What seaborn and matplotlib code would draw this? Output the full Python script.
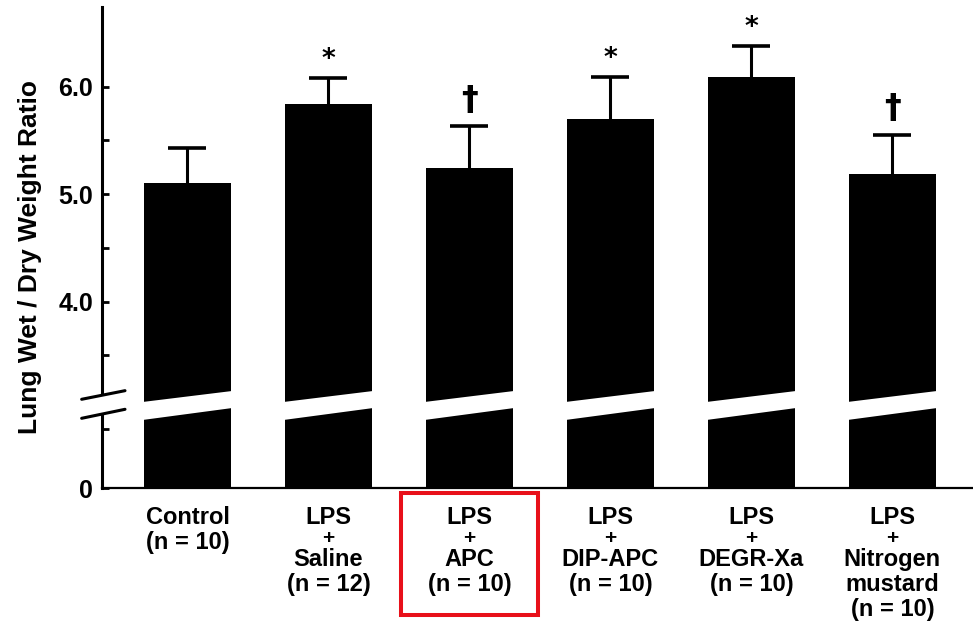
import numpy as np
import pandas as pd
import matplotlib
matplotlib.use("Agg")
import matplotlib.pyplot as plt
import matplotlib.transforms as mtransforms
from matplotlib.patches import Polygon, Rectangle
from matplotlib.lines import Line2D
from matplotlib.ticker import FixedLocator
import seaborn as sns

# ---- data -------------------------------------------------------------
groups = ["Control", "LPS + Saline", "LPS + APC", "LPS + DIP-APC",
          "LPS + DEGR-Xa", "LPS + Nitrogen mustard"]
group_labels = [
    "Control\n(n = 10)",
    "LPS\n+\nSaline\n(n = 12)",
    "LPS\n+\nAPC\n(n = 10)",
    "LPS\n+\nDIP-APC\n(n = 10)",
    "LPS\n+\nDEGR-Xa\n(n = 10)",
    "LPS\n+\nNitrogen\nmustard\n(n = 10)",
]
ratio_mean = [5.10, 5.84, 5.24, 5.70, 6.09, 5.19]
ratio_sem = [0.33, 0.24, 0.39, 0.39, 0.29, 0.36]
significance = ["", "*", "\u2020", "*", "*", "\u2020"]

major_ticks = [0, 4.0, 5.0, 6.0]
major_labels = ["0", "4.0", "5.0", "6.0"]
minor_ticks = [2.25, 3.5, 4.5, 5.5]

# ---- broken y scale: 0..3 squeezed into a short stub under the break ---
BREAK = 3.0
ZERO_POS = 2.264


def squeeze(v):
    v = np.asarray(v, dtype=float)
    return np.where(v >= BREAK, v, ZERO_POS + v * (BREAK - ZERO_POS) / BREAK)


def unsqueeze(s):
    s = np.asarray(s, dtype=float)
    return np.where(s >= BREAK, s, (s - ZERO_POS) * BREAK / (BREAK - ZERO_POS))


sns.set_style("white")
plt.rcParams["font.family"] = ["Liberation Sans", "DejaVu Sans"]
plt.rcParams["font.weight"] = "bold"
for key in ["text.color", "axes.labelcolor", "xtick.color", "ytick.color",
            "axes.edgecolor"]:
    plt.rcParams[key] = "black"

df = pd.DataFrame({"group": groups, "ratio": ratio_mean})

fig = plt.figure(figsize=(9.73, 6.24), dpi=100)
ax = fig.add_axes([0.1045, 0.2175, 0.8945, 0.7713])

sns.barplot(data=df, x="group", y="ratio", order=groups, color="black",
            saturation=1, width=0.617, errorbar=None, linewidth=0, ax=ax)

ax.set_yscale("function", functions=(squeeze, unsqueeze))
ax.set_ylim(0, 6.741)
ax.set_xlim(-0.6087, 5.5654)

# upward-only error bars (SEM); the lower cap sits inside the bar and is hidden
xpos = np.arange(len(groups))
_, caps, _ = ax.errorbar(xpos, ratio_mean,
                         yerr=[np.zeros(len(groups)), ratio_sem],
                         fmt="none", ecolor="black", elinewidth=2.2,
                         capsize=13.5, capthick=2.6, zorder=4)
caps[0].set_visible(False)

# significance marks above the error bars
for x, m, s, mark in zip(xpos, ratio_mean, ratio_sem, significance):
    if not mark:
        continue
    if mark == "*":
        ax.annotate(mark, xy=(x, m + s), xytext=(0, 8), textcoords="offset points",
                    ha="center", va="baseline", fontsize=19, fontweight="bold",
                    family=["DejaVu Sans"])
    else:
        ax.annotate(mark, xy=(x, m + s), xytext=(0, 12), textcoords="offset points",
                    ha="center", va="baseline", fontsize=24, fontweight="bold",
                    family=["DejaVu Sans"])

# slanted white gap across every bar
blend = mtransforms.blended_transform_factory(ax.transData, ax.transAxes)
for p in ax.patches:
    x0 = p.get_x() - 0.01
    x1 = p.get_x() + p.get_width() + 0.01
    band = Polygon([(x0, 0.1793), (x1, 0.2022), (x1, 0.1668), (x0, 0.1419)],
                   closed=True, transform=blend, facecolor="white",
                   edgecolor="none", zorder=3)
    ax.add_patch(band)

# gap in the y axis with two slanted break strokes
ax.add_patch(Rectangle((-0.012, 0.1540), 0.024, 0.0385, transform=ax.transAxes,
                       facecolor="white", edgecolor="none", zorder=5,
                       clip_on=False))
for y0, y1 in [(0.1849, 0.2028), (0.1454, 0.1641)]:
    ax.add_line(Line2D([-0.023, 0.0268], [y0, y1], transform=ax.transAxes,
                       color="black", linewidth=2.2, zorder=6, clip_on=False))

# axes styling
for side in ["top", "right"]:
    ax.spines[side].set_visible(False)
ax.spines["left"].set_linewidth(2.2)
ax.spines["bottom"].set_linewidth(1.6)

ax.yaxis.set_major_locator(FixedLocator(major_ticks))
ax.set_yticklabels(major_labels)
ax.yaxis.set_minor_locator(FixedLocator(minor_ticks))
ax.tick_params(axis="y", which="both", left=True, direction="in", length=5,
               width=2, color="black", pad=6)
ax.tick_params(axis="y", which="major", labelsize=18)
for t in ax.get_yticklabels():
    t.set_fontweight("bold")

ax.set_xticks(xpos)
ax.set_xticklabels([])
ax.tick_params(axis="x", length=0)
ax.set_xlabel("")

ax.set_ylabel("Lung Wet / Dry Weight Ratio", fontsize=19, fontweight="bold")
ax.yaxis.set_label_coords(-0.069, 0.48)

# group labels, one text per line; the small "+" gets a shorter step
for x, lab in zip(xpos, group_labels):
    off = -21.0
    prev = None
    for line in lab.split("\n"):
        if prev is not None:
            off -= 15.2 if (line == "+" or prev == "+") else 18.0
        ax.annotate(line, xy=(x, 0), xycoords=blend, xytext=(0, off),
                    textcoords="offset points", ha="center", va="center",
                    fontsize=(15 if line == "+" else 17), fontweight="bold",
                    annotation_clip=False)
        prev = line

# highlight box round the LPS + APC group
fig.add_artist(Rectangle((401 / 973, 1 - 615 / 624), 137 / 973, 122 / 624,
                         transform=fig.transFigure, fill=False,
                         edgecolor="#e8101a", linewidth=2.9))

fig.savefig("out.png", dpi=100)
